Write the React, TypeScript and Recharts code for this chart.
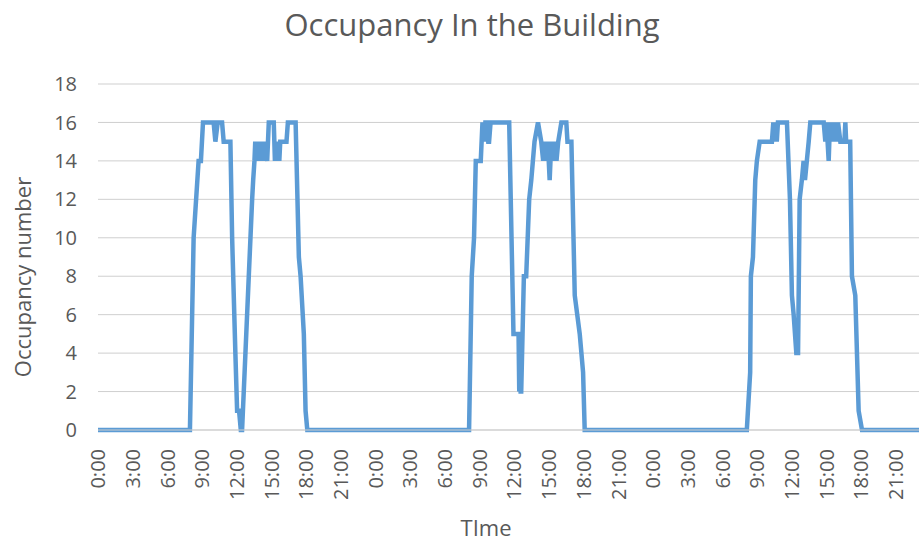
import React from 'react';
import { LineChart, Line, XAxis, YAxis, CartesianGrid } from 'recharts';

// hour of day for each reading, and the occupancy at that time
const dayOneHours = [0, 7.95, 8.27, 8.7, 8.9, 9.08, 10.0, 10.15, 10.35, 10.73, 10.87, 11.45, 11.6, 11.88, 12.03, 12.2, 12.35, 12.46, 12.75, 13.04, 13.33, 13.42, 13.53, 13.6, 13.68, 13.76, 13.84, 13.92, 14.0, 14.08, 14.16, 14.24, 14.32, 14.4, 14.63, 14.77, 15.2, 15.3, 15.44, 15.52, 15.6, 15.68, 15.76, 15.9, 16.3, 16.42, 17.09, 17.37, 17.52, 17.8, 17.95, 18.1];
const dayOneOccupancy = [0, 0, 10, 14, 14, 16, 16, 15, 16, 16, 15, 15, 10, 4, 1, 1, 0, 0, 4, 8, 12, 13, 14, 15, 14, 15, 14, 15, 14, 15, 14, 15, 14, 15, 14, 16, 16, 14, 15, 14, 15, 14, 15, 15, 15, 16, 16, 9, 8, 5, 1, 0];

const dayTwoHours = [0, 8.09, 8.32, 8.52, 8.67, 9.1, 9.25, 9.4, 9.5, 9.6, 9.75, 9.82, 9.95, 11.56, 11.93, 12.37, 12.43, 12.5, 12.55, 12.6, 12.83, 13.03, 13.29, 13.47, 13.75, 14.05, 14.33, 14.5, 14.6, 14.75, 14.9, 15.06, 15.2, 15.35, 15.5, 15.65, 15.8, 16.07, 16.5, 16.6, 16.94, 17.23, 17.66, 17.95, 18.09];
const dayTwoOccupancy = [0, 0, 8, 10, 14, 14, 16, 15, 16, 16, 15, 15, 16, 16, 5, 5, 2, 4, 2, 2, 8, 8, 12, 13, 15, 16, 15, 14, 15, 14, 15, 13, 15, 14, 15, 14, 15, 16, 16, 15, 15, 7, 5, 3, 0];

const dayThreeHours = [0, 8.11, 8.4, 8.46, 8.64, 8.84, 8.98, 9.22, 10.28, 10.4, 10.5, 10.6, 10.7, 10.8, 11.58, 11.84, 12.01, 12.16, 12.39, 12.54, 12.68, 12.87, 13.02, 13.14, 13.3, 13.46, 13.6, 14.76, 14.9, 15.0, 15.19, 15.3, 15.4, 15.48, 15.6, 15.74, 15.85, 16.0, 16.2, 16.55, 16.63, 16.7, 17.05, 17.2, 17.49, 17.78, 18.07, 23];
const dayThreeOccupancy = [0, 0, 3, 8, 9, 13, 14, 15, 15, 16, 15, 16, 15, 16, 16, 12, 7, 6, 4, 4, 12, 13, 14, 13, 14, 15, 16, 16, 15, 16, 14, 16, 15, 16, 15, 16, 15, 16, 15, 15, 16, 15, 15, 8, 7, 1, 0, 0];

const xTicks = [0, 3, 6, 9, 12, 15, 18, 21, 24, 27, 30, 33, 36, 39, 42, 45, 48, 51, 54, 57, 60, 63, 66, 69];
const yTicks = [0, 2, 4, 6, 8, 10, 12, 14, 16, 18];

const days = [
  [dayOneHours, dayOneOccupancy],
  [dayTwoHours, dayTwoOccupancy],
  [dayThreeHours, dayThreeOccupancy],
];

const data = days.flatMap(([hours, occ], d) =>
  hours.map((h, i) => ({ t: d * 24 + h, occupancy: occ[i] }))
);

const font = '"Open Sans", sans-serif';
const grey = '#595959';

const TimeTick = (props: any) => {
  const { x, y, payload } = props;
  return (
    <g transform={`translate(${x},${y})`}>
      <text
        transform="rotate(-90)"
        x={-17}
        y={0}
        dy="0.36em"
        textAnchor="end"
        fill={grey}
        fontSize={20}
        fontFamily={font}
      >
        {`${payload.value % 24}:00`}
      </text>
    </g>
  );
};

const App = () => {
  return (
    <div style={{ position: 'absolute', left: 0, top: 0, width: 919, height: 541, background: '#fff' }}>
      <div
        style={{
          position: 'absolute', left: 472, top: 24, transform: 'translate(-50%, -50%)',
          whiteSpace: 'nowrap', fontFamily: font, fontSize: 31, color: grey,
        }}
      >
        Occupancy In the Building
      </div>
      <div
        style={{
          position: 'absolute', left: 22, top: 277, transform: 'translate(-50%, -50%) rotate(-90deg)',
          whiteSpace: 'nowrap', fontFamily: font, fontSize: 22, color: grey,
        }}
      >
        Occupancy number
      </div>
      <div
        style={{
          position: 'absolute', left: 486, top: 527, transform: 'translate(-50%, -50%)',
          fontFamily: font, fontSize: 22, color: grey,
        }}
      >
        TIme
      </div>
      <LineChart
        width={919}
        height={541}
        data={data}
        margin={{ top: 84, right: 0, left: 0, bottom: 0 }}
        style={{ position: 'absolute', left: 0, top: 0 }}
      >
        <CartesianGrid vertical={false} stroke="#cfcfcf" />
        <XAxis
          dataKey="t"
          type="number"
          domain={[0, 71]}
          ticks={xTicks}
          interval={0}
          height={111}
          tickLine={false}
          tickSize={0}
          axisLine={{ stroke: '#cfcfcf' }}
          tick={<TimeTick />}
        />
        <YAxis
          domain={[0, 18]}
          ticks={yTicks}
          width={98}
          axisLine={false}
          tickLine={false}
          tickSize={0}
          tickMargin={21}
          tick={{ fill: grey, fontSize: 20, fontFamily: font }}
        />
        <Line
          type="linear"
          dataKey="occupancy"
          stroke="#5b9bd5"
          strokeWidth={4.5}
          dot={false}
          isAnimationActive={false}
        />
      </LineChart>
    </div>
  );
};

export default App;
